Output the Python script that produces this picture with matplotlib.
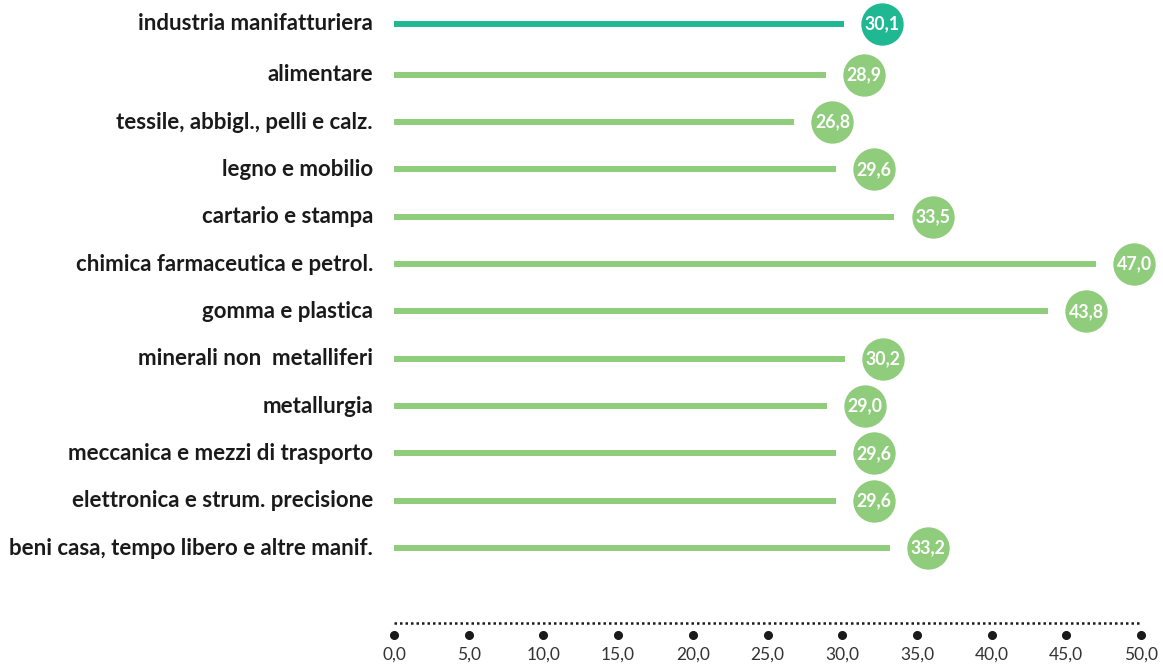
import matplotlib.pyplot as plt
import numpy as np

sectors = [
    "industria manifatturiera",
    "alimentare",
    "tessile, abbigl., pelli e calz.",
    "legno e mobilio",
    "cartario e stampa",
    "chimica farmaceutica e petrol.",
    "gomma e plastica",
    "minerali non  metalliferi",
    "metallurgia",
    "meccanica e mezzi di trasporto",
    "elettronica e strum. precisione",
    "beni casa, tempo libero e altre manif.",
]
values = [30.1, 28.9, 26.8, 29.6, 33.5, 47.0, 43.8, 30.2, 29.0, 29.6, 29.6, 33.2]
ticks = [0, 5, 10, 15, 20, 25, 30, 35, 40, 45, 50]

TEAL = "#1fb893"
GREEN = "#8fcd7c"
DARK = "#1a1a1a"

plt.rcParams["font.family"] = ["Lato", "DejaVu Sans"]

W, H = 1163, 666
fig = plt.figure(figsize=(W / 100, H / 100), dpi=100)
x0, x1 = 394, 1141
ax = fig.add_axes([x0 / W, 0, (x1 - x0) / W, 1])
ax.set_xlim(0, 50)
ax.set_ylim(H, 0)  # y in pixels from top
ax.axis("off")

# row layout: the total row sits a little apart from the sectors
top, step, gap = 24.0, 47.33, 3.4
rows = [top] + [top + gap + i * step for i in range(1, len(sectors))]

offset = 2.55
for i, (name, v) in enumerate(zip(sectors, values)):
    y = rows[i]
    c = TEAL if i == 0 else GREEN
    ax.plot([0, v], [y, y], color=c, lw=4.3, solid_capstyle="butt")
    ax.plot(v + offset, y, "o", ms=30.5, color=c, mec="none", clip_on=False)
    ax.text(v + offset, y, f"{v:.1f}".replace(".", ","), color="white",
            fontsize=12.8, fontweight="bold", ha="center", va="center")
    ax.text(-1.4, y, name, color=DARK, fontsize=16, fontweight="bold",
            ha="right", va="center")

# bottom scale: dotted rule, dots at ticks, labels
ax.plot([0, 50], [623, 623], color=DARK, lw=1.8, ls=(0, (1, 1.2)),
        clip_on=False)
ax.plot(ticks, [635] * len(ticks), "o", ms=5.5, color=DARK, clip_on=False)
for t in ticks:
    ax.text(t, 655, f"{t:.1f}".replace(".", ","), color="#333333",
            fontsize=12.5, ha="center", va="center")

fig.savefig("out.png", dpi=100)
